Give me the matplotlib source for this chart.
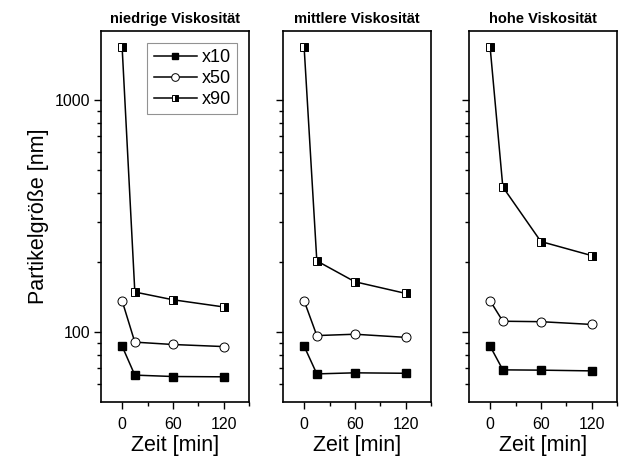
import numpy as np
import matplotlib
matplotlib.use("Agg")
import matplotlib.pyplot as plt
from matplotlib.ticker import FixedLocator, NullFormatter

plt.rcParams['font.family'] = ['Liberation Sans', 'DejaVu Sans']

# Zeitpunkte [min]
zeit = [0, 15, 60, 120]

titles = ["niedrige Viskosität", "mittlere Viskosität", "hohe Viskosität"]

x10 = [
    [87, 65.3, 64.4, 64.2],
    [87, 66.1, 66.8, 66.5],
    [87, 68.8, 68.6, 68.1],
]
x50 = [
    [136.5, 90.6, 88.5, 86.7],
    [136.5, 96.7, 98, 95],
    [136.5, 111.5, 111, 108],
]
x90 = [
    [1690, 149, 138, 128.5],
    [1690, 203, 165, 147],
    [1690, 423, 246, 214],
]

fig = plt.figure(figsize=(6.23, 4.57), dpi=100)
W, H = 623, 457
lefts = [101, 283, 469]
width = 148
top, bottom = 31, 402

for i in range(3):
    ax = fig.add_axes([lefts[i] / W, 1 - bottom / H, width / W, (bottom - top) / H])

    ax.plot(zeit, x10[i], color="black", lw=1.1, marker="s", ms=5.5,
            mfc="black", mec="black", label="x10")
    ax.plot(zeit, x50[i], color="black", lw=1.1, marker="o", ms=6.5,
            mfc="white", mec="black", mew=0.7, label="x50")
    ax.plot(zeit, x90[i], color="black", lw=1.1, marker="s", ms=5.5,
            fillstyle="right", mfc="black", mfcalt="white", mec="black",
            mew=0.7, label="x90")

    ax.set_yscale("log")
    ax.set_ylim(50, 1990)
    ax.set_xlim(-25, 150)
    ax.yaxis.set_major_locator(FixedLocator([100, 1000]))
    ax.yaxis.set_minor_locator(FixedLocator([60, 70, 80, 90, 200, 300, 400, 500,
                                             600, 700, 800, 900]))
    ax.yaxis.set_minor_formatter(NullFormatter())
    ax.xaxis.set_major_locator(FixedLocator([0, 60, 120]))
    ax.xaxis.set_minor_locator(FixedLocator([30, 90, 150]))

    ax.tick_params(which="major", direction="out", length=5, width=1, labelsize=11.5,
                   top=False, right=False, pad=3)
    ax.tick_params(axis="x", which="major", pad=6)
    ax.tick_params(which="minor", direction="out", length=3, width=1,
                   top=False, right=False)
    for s in ax.spines.values():
        s.set_linewidth(1.2)

    ax.set_title(titles[i], fontsize=10.5, fontweight="bold", pad=6)
    ax.set_xlabel("Zeit [min]", fontsize=15.5, labelpad=2)

    if i == 0:
        ax.set_yticklabels(["100", "1000"])
        ax.set_ylabel("Partikelgröße [nm]", fontsize=15.5, labelpad=4)
        leg = ax.legend(loc="upper right", fontsize=13, frameon=True, fancybox=False,
                        edgecolor="#777777", handlelength=2.4, handletextpad=0.25,
                        borderpad=0.35, labelspacing=0.22, markerscale=0.85,
                        borderaxespad=0, bbox_to_anchor=(0.92, 0.968))
        leg.get_frame().set_linewidth(0.8)
    else:
        ax.set_yticklabels([])

fig.savefig("out.png", dpi=100)
